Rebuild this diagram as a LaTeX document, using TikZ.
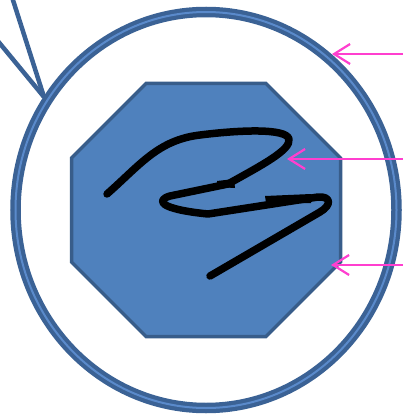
\documentclass[tikz,border=0pt]{standalone}
\usetikzlibrary{arrows.meta}
\definecolor{ringdark}{HTML}{3B6295}
\definecolor{ringlight}{HTML}{5A8ACB}
\definecolor{octfill}{HTML}{4F81BD}
\definecolor{octedge}{HTML}{385D8A}
\definecolor{pinkarrow}{HTML}{FF3FCF}
\tikzset{
  ring/.style={draw=ringdark, line width=10.5pt},
  ringcore/.style={draw=ringlight, line width=2pt},
  stalk/.style={draw=ringdark, line width=4.5pt},
  octa/.style={fill=octfill, draw=octedge, line width=3.5pt, line join=miter},
  scrib/.style={draw=black, line width=7.5pt, line cap=round, line join=round},
  pointer/.style={draw=pinkarrow, line width=2.2pt, -{Straight Barb[length=16pt,width=20pt,line width=2.2pt]}}
}
\begin{document}
\begin{tikzpicture}[x=1pt,y=-1pt]
\useasboundingbox (0,0) rectangle (403,414);
% stalk lines
\coordinate (join) at (44,97);
\coordinate (s1) at (12,-3);
\coordinate (s2) at (-3,40);
\draw[stalk] (s1) -- (join);
\draw[stalk] (s2) -- (join);
% ring
\draw[ring] (206,210) ellipse [x radius=190.5, y radius=198];
\draw[ringcore] (206,210) ellipse [x radius=190.5, y radius=198];
% octagon
\draw[octa] (146,83.5) -- (266,83.5) -- (340.5,158) -- (340.5,262) -- (266,336.5) -- (146,336.5) -- (71.5,262) -- (71.5,158) -- cycle;
% scribble
\draw[scrib] (107,194) .. controls (140,165) and (158,140) .. (200,135)
  .. controls (240,130) and (286,128) .. (289,139)
  .. controls (291,150) and (262,165) .. (228,184)
  -- (170,196) .. controls (156,200) and (158,209) .. (208,214)
  -- (318,197) .. controls (331,196) and (332,205) .. (320,212)
  -- (210,276);
\fill (217,181) -- (234,179) -- (235,188) -- (217,187) -- cycle;
\fill (265,196) -- (311,194) -- (311,203) -- (266,203) -- cycle;
% pointers
\coordinate (p1s) at (403,54);
\coordinate (p1e) at (332,54);
\coordinate (p2s) at (403,159);
\coordinate (p2e) at (287,159);
\coordinate (p3s) at (403,265);
\coordinate (p3e) at (331,265);
\draw[pointer] (p1s) -- (p1e);
\draw[pointer] (p2s) -- (p2e);
\draw[pointer] (p3s) -- (p3e);
\end{tikzpicture}
\end{document}
